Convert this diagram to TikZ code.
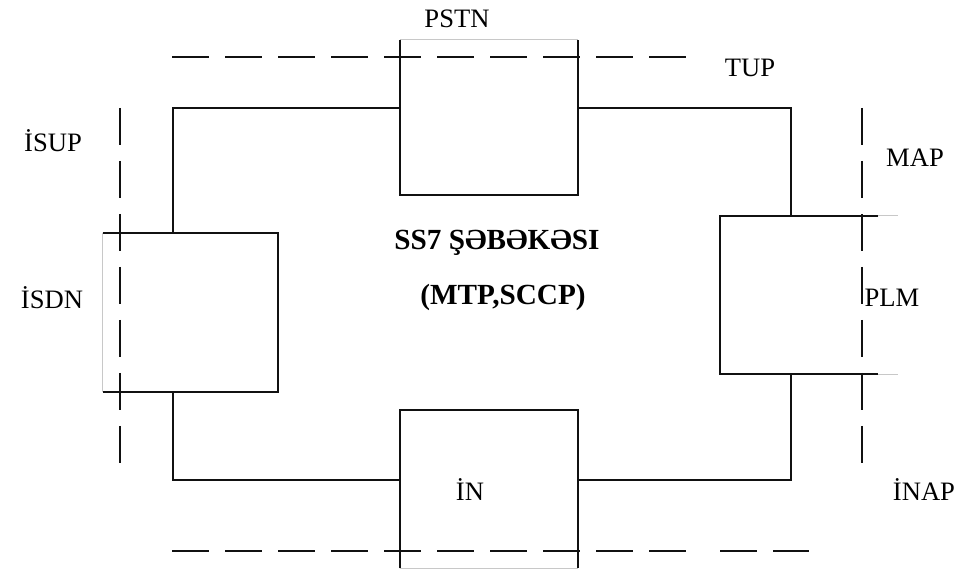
\documentclass[tikz,border=0pt]{standalone}
\usepackage{fontspec}
\setmainfont{Liberation Serif}
\usepackage{xcolor}
\usetikzlibrary{positioning,calc}
\definecolor{ink}{HTML}{111111}
\definecolor{faint}{HTML}{C8C8C8}
\tikzset{
  unitbox/.style={draw=none,minimum width=#1,inner sep=0pt},
  edge/.style={draw=ink,line width=1pt},
  faintedge/.style={draw=faint,line width=0.6pt},
  wire/.style={draw=ink,line width=1pt},
  border/.style={draw=ink,line width=1pt,dash pattern=on 18.5pt off 8pt},
  lbl/.style={font=\fontsize{13.3}{15}\selectfont,inner sep=1pt},
  title/.style={font=\fontsize{14.6}{17}\selectfont\bfseries,inner sep=1pt}
}

\begin{document}
\begin{tikzpicture}[x=0.5pt,y=-0.5pt]
    \path[use as bounding box] (0,0) rectangle (966,572);

    % boxes
    \node[unitbox=89pt,minimum height=77.5pt] (pstn) at (489,117.5) {};
    \node[unitbox=87.5pt,minimum height=79pt] (isdn) at (190.5,312.5) {};
    \node[unitbox=79pt,minimum height=79pt] (plm) at (799,295) {};
    \node[unitbox=89pt,minimum height=79pt] (in) at (489,489) {};

    \draw[faintedge] (pstn.north west) -- (pstn.north east);
    \draw[edge] (pstn.north west) -- (pstn.south west) -- (pstn.south east) -- (pstn.north east);
    \draw[faintedge] (isdn.north west) -- (isdn.south west);
    \draw[edge] (isdn.north west) -- (isdn.north east) -- (isdn.south east) -- (isdn.south west);
    \draw[edge] (plm.north east) -- (plm.north west) -- (plm.south west) -- (plm.south east);
    \draw[faintedge] (plm.north east) -- ++(20,0);
    \draw[faintedge] (plm.south east) -- ++(20,0);
    \draw[faintedge] (in.south west) -- (in.south east);
    \draw[edge] (in.south west) -- (in.north west) -- (in.north east) -- (in.south east);

    % ring of links
    \coordinate (tl) at (173,108);
    \coordinate (tr) at (791,108);
    \coordinate (bl) at (173,480);
    \coordinate (br) at (791,480);
    \draw[wire] (isdn.north -| tl) -- (tl) -- (pstn.west |- tl);
    \draw[wire] (pstn.east |- tr) -- (tr) -- (plm.north -| tr);
    \draw[wire] (isdn.south -| bl) -- (bl) -- (in.west |- bl);
    \draw[wire] (in.east |- br) -- (br) -- (plm.south -| br);

    % dashed borders
    \coordinate (top0) at (172,57);
    \coordinate (top1) at (686,57);
    \coordinate (bot0) at (172,551);
    \coordinate (bot1) at (686,551);
    \coordinate (bot2) at (720,551);
    \coordinate (bot3) at (809,551);
    \coordinate (lft0) at (120,108);
    \coordinate (lft1) at (120,470);
    \coordinate (rgt0) at (862,108);
    \coordinate (rgt1) at (862,470);
    \draw[border] (top0) -- (top1);
    \draw[border] (bot0) -- (bot1);
    \draw[border] (bot2) -- (bot3);
    \draw[border] (lft0) -- (lft1);
    \draw[border] (rgt0) -- (rgt1);

    % labels
    \node[lbl] (pstnlbl) at (457,19) {PSTN};
    \node[lbl] (tup) at (750,68) {TUP};
    \node[lbl] (isup) at (53,141) {İSUP};
    \node[lbl] (isdnlbl) at (52,298) {İSDN};
    \node[lbl] (map) at (915,158) {MAP};
    \node[lbl] (plmlbl) at (892,298) {PLM};
    \node[lbl] (inap) at (924,490) {İNAP};
    \node[lbl] (inlbl) at (470,490) {İN};
    \node[title] (net) at (497,243) {SS7 ŞƏBƏKƏSI};
    \node[title] (proto) at (503,297) {(MTP,SCCP)};
\end{tikzpicture}
\end{document}
